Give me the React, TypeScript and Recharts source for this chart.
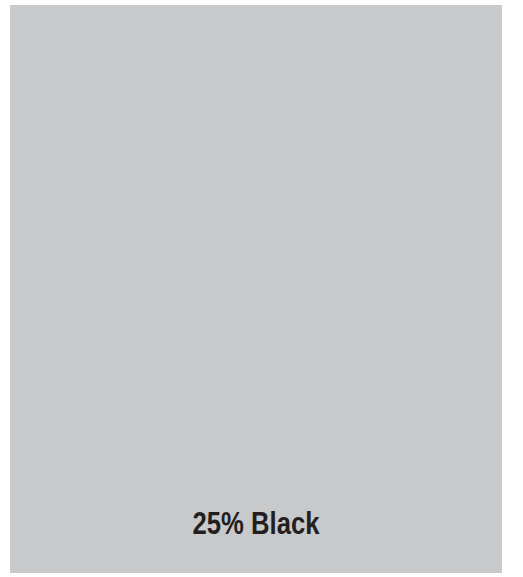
import { BarChart, Bar, XAxis, YAxis, LabelList } from 'recharts'

// single swatch: one full-height bar
const categories = ['25% Black']
const values = [100]

const chartData = categories.map((name, i) => ({ name, value: values[i] }))

// condensed bold label near the bottom of the swatch
const SwatchLabel = (props: any) => {
  const { x, y, width, height, value } = props
  return (
    <text
      x={x + width / 2}
      y={y + height - 39}
      textAnchor="middle"
      fill="#231f20"
      fontFamily='"Liberation Sans", Arial, sans-serif'
      fontWeight={700}
      fontSize={32}
      textLength={127}
      lengthAdjust="spacingAndGlyphs"
    >
      {value}
    </text>
  )
}

export default function App() {
  return (
    <div style={{ position: 'absolute', left: 0, top: 0, width: 523, height: 577, background: '#ffffff' }}>
      <BarChart
        width={523}
        height={577}
        data={chartData}
        margin={{ top: 5, right: 21, left: 10, bottom: 4 }}
        barCategoryGap={0}
      >
        <XAxis dataKey="name" hide />
        <YAxis hide domain={[0, 100]} />
        <Bar dataKey="value" fill="#c8c9cb" isAnimationActive={false}>
          <LabelList dataKey="name" content={SwatchLabel} />
        </Bar>
      </BarChart>
    </div>
  )
}
